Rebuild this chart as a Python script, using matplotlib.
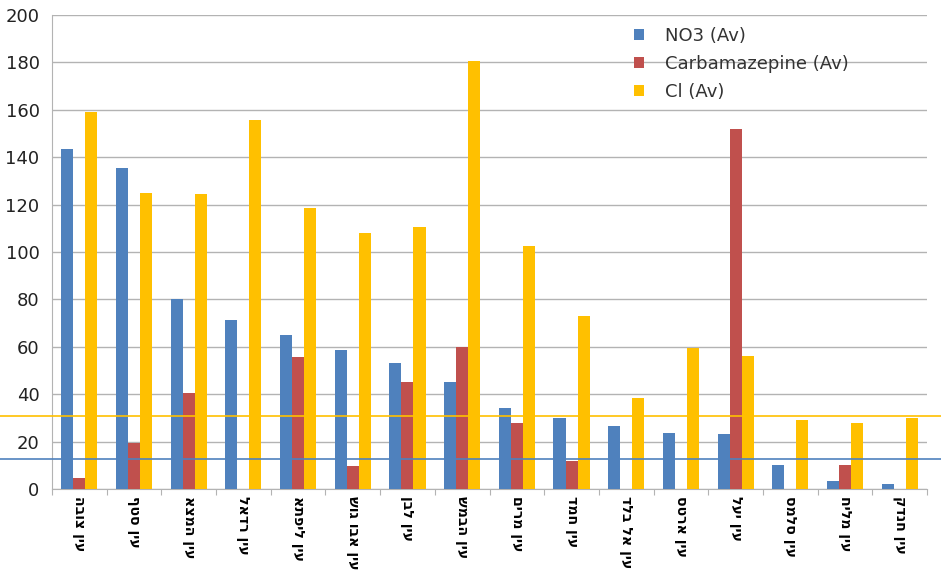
import matplotlib
matplotlib.use("Agg")
import matplotlib.pyplot as plt
import numpy as np

# Spring names (logical Hebrew order)
springs = [
    "עין צובה", "עין סטף", "עין המצא", "עין רדאל", "עין ליפתא", "עין אבו גוש",
    "עין לבן", "עין הבמש", "עין מרים", "עין חמד", "עין אל בלד", "עין ארטס",
    "עין יעל", "עין סלמס", "עין מליח", "עין חנדק",
]
no3 = [143.5, 135.5, 80, 71.5, 65, 58.5, 53, 45, 34, 30, 26.5, 23.5, 23, 10, 3.5, 2]
carbamazepine = [4.5, 19.5, 40.5, 0, 55.5, 9.5, 45, 60, 28, 12, 0, 0, 152, 0, 10, 0]
cl = [159, 125, 124.5, 155.5, 118.5, 108, 110.5, 180.5, 102.5, 73, 38.5, 59.5, 56, 29, 28, 30]
series_labels = ["NO3 (Av)", "Carbamazepine (Av)", "Cl (Av)"]
ref_no3 = 12.5
ref_cl = 31

c_blue = "#4f81bd"
c_red = "#c0504d"
c_yellow = "#ffc000"

plt.rcParams["font.family"] = ["DejaVu Sans"]

fig = plt.figure(figsize=(9.41, 5.74), dpi=100)
ax = fig.add_axes([52 / 941, 85 / 574, 875 / 941, 474 / 574])

x = np.arange(len(springs))
w = 0.22
ax.bar(x - w, no3, w, color=c_blue, label=series_labels[0], zorder=3)
ax.bar(x, carbamazepine, w, color=c_red, label=series_labels[1], zorder=3)
ax.bar(x + w, cl, w, color=c_yellow, label=series_labels[2], zorder=3)

ax.set_xlim(-0.5, len(springs) - 0.5)
ax.set_ylim(0, 200)
ax.set_yticks(range(0, 201, 20))
ax.yaxis.grid(True, color="#b3b3b3", linewidth=1.0, zorder=0)
ax.set_axisbelow(True)

for s in ["top", "right"]:
    ax.spines[s].set_visible(False)
ax.spines["left"].set_color("#b3b3b3")
ax.spines["bottom"].set_color("#b3b3b3")
ax.tick_params(axis="y", length=0, labelsize=13, pad=9, colors="#222222")

# Tick marks between groups on the category axis
ax.set_xticks(np.arange(-0.5, len(springs), 1.0))
ax.set_xticklabels([])
ax.tick_params(axis="x", length=4, color="#b3b3b3")

# Hebrew names, laid out right-to-left and turned to read downwards
for i, name in enumerate(springs):
    ax.text(i, -2.8, name[::-1], rotation=-90, ha="center", va="top",
            fontsize=10.2, fontweight="bold", color="black")

# Reference levels spanning the full width
ax.axhline(ref_no3, xmin=-0.06, xmax=1.02, color=c_blue, linewidth=1.2,
           clip_on=False, zorder=4)
ax.axhline(ref_cl, xmin=-0.06, xmax=1.02, color=c_yellow, linewidth=1.2,
           clip_on=False, zorder=4)

fig.legend(loc="upper left", bbox_to_anchor=(634 / 941, 547 / 574),
           bbox_transform=fig.transFigure, frameon=False, borderpad=0,
           borderaxespad=0, fontsize=13, handlelength=0.55, handleheight=0.55,
           handletextpad=1.15, labelspacing=0.55, labelcolor="#333333")

fig.savefig("out.png", dpi=100)
